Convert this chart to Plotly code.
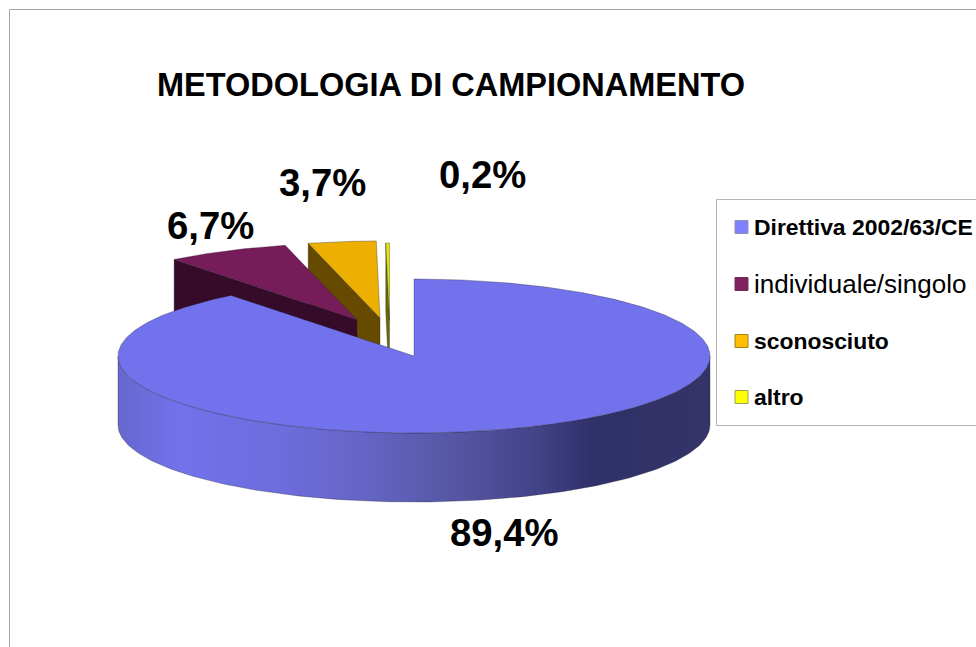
import math
import plotly.graph_objects as go

# ---- data ----
categories = ["Direttiva 2002/63/CE", "individuale/singolo", "sconosciuto", "altro"]
values = [89.4, 6.7, 3.7, 0.2]
value_labels = ["89,4%", "6,7%", "3,7%", "0,2%"]
title_text = "METODOLOGIA DI CAMPIONAMENTO"

# ---- styles / layout ----
top_colors = ["#7272EC", "#761C58", "#EDB000", "#E6E600"]
side_colors = ["#5A5ABA", "#360B2A", "#654A00", "#6A6A00"]
key_colors = ["#8080FF", "#802060", "#FFBF00", "#FFFF00"]
key_borders = ["#9090B0", "#6A3058", "#A08020", "#A0A060"]
text_fonts = [22.9, 26, 22.9, 22.9]
text_bold = [True, False, True, True]
side_gradient = [[0, "#6767CE"], [0.1, "#7272EC"], [0.25, "#6E6EE0"], [0.4, "#6666C8"],
                 [0.55, "#5858A8"], [0.7, "#44448A"], [0.8, "#30306A"], [1, "#343468"]]

CX, CY, RX, RY, DEPTH = 414, 356, 296, 77, 69
centres = [(414, 356), (357, 320), (380, 318), (389.5, 320)]
label_pos = [(504, 532), (210, 225), (322, 182), (482, 174)]
key_y = [227, 284, 341, 397]
KEY_X, TEXT_X = 741.5, 752
EDGE = "rgba(30,30,50,0.55)"


def rim(c, a0, a1, n=120):
    xs, ys = [], []
    for i in range(n + 1):
        a = math.radians(a0 + (a1 - a0) * i / n)
        xs.append(c[0] + RX * math.sin(a))
        ys.append(c[1] - RY * math.cos(a))
    return xs, ys


# sweep from the values
spans = []
acc = 0.0
for v in values:
    spans.append((acc * 3.6, (acc + v) * 3.6))
    acc += v

fig = go.Figure()

# exploded slices, back to front, then the main slice
for i in [3, 2, 1]:
    a0, a1 = spans[i]
    c = centres[i]
    xr, yr = rim(c, a0, a1, 40)
    # cut face on the viewer's side
    fig.add_trace(go.Scatter(
        x=[xr[0], c[0], c[0], xr[0], xr[0]],
        y=[yr[0], c[1], c[1] + DEPTH, yr[0] + DEPTH, yr[0]],
        mode="lines", fill="toself", fillcolor=side_colors[i],
        line=dict(color=EDGE, width=0.6), hoverinfo="skip", showlegend=False))
    fig.add_trace(go.Scatter(
        x=[c[0]] + xr + [c[0]], y=[c[1]] + yr + [c[1]],
        mode="lines", fill="toself", fillcolor=top_colors[i],
        line=dict(color=EDGE, width=0.6), name=categories[i], showlegend=False))

# main slice: front wall with a horizontal gradient, then its top
a0, a1 = spans[0]
c = centres[0]
xf, yf = rim(c, 90, 270, 180)
fig.add_trace(go.Scatter(
    x=xf + xf[::-1] + [xf[0]],
    y=yf + [y + DEPTH for y in yf[::-1]] + [yf[0]],
    mode="lines", fill="toself",
    fillgradient=dict(type="horizontal", colorscale=side_gradient),
    line=dict(color=EDGE, width=0.6), hoverinfo="skip", showlegend=False))
xr, yr = rim(c, a0, a1, 360)
fig.add_trace(go.Scatter(
    x=[c[0]] + xr + [c[0]], y=[c[1]] + yr + [c[1]],
    mode="lines", fill="toself", fillcolor=top_colors[0],
    line=dict(color=EDGE, width=0.6), name=categories[0], showlegend=False))

# legend keys
for i, cat in enumerate(categories):
    fig.add_trace(go.Scatter(
        x=[KEY_X], y=[key_y[i]], mode="markers",
        marker=dict(symbol="square", size=13, color=key_colors[i],
                    line=dict(color=key_borders[i], width=1)),
        name=cat, showlegend=False, hoverinfo="skip"))

ann = [dict(x=450.5, y=85, text="<b>%s</b>" % title_text, showarrow=False,
            font=dict(size=32.5, color="black"))]
for (x, y), t in zip(label_pos, value_labels):
    ann.append(dict(x=x, y=y, text="<b>%s</b>" % t, showarrow=False,
                    font=dict(size=38.3, color="black")))
for i, cat in enumerate(categories):
    ann.append(dict(x=TEXT_X, y=key_y[i], text=("<b>%s</b>" % cat) if text_bold[i] else cat,
                    xanchor="left", showarrow=False,
                    font=dict(size=text_fonts[i], color="black")))
for a in ann:
    a.update(xref="x", yref="y", xshift=0, yshift=0)

GRAY = "#A6A6A6"
shapes = [
    dict(type="line", xref="x", yref="y", x0=9.5, y0=9.5, x1=976, y1=9.5, line=dict(color=GRAY, width=1)),
    dict(type="line", xref="x", yref="y", x0=9.5, y0=9.5, x1=9.5, y1=647, line=dict(color=GRAY, width=1)),
    dict(type="rect", xref="x", yref="y", x0=716.5, y0=199.5, x1=980, y1=425.5,
         line=dict(color="#B4B4B4", width=1), layer="below"),
]

fig.update_layout(
    width=976, height=647, margin=dict(l=0, r=0, t=0, b=0),
    paper_bgcolor="white", plot_bgcolor="white",
    font=dict(family="Liberation Sans, Arial, sans-serif"),
    showlegend=False, annotations=ann, shapes=shapes,
    xaxis=dict(range=[0, 976], visible=False, fixedrange=True),
    yaxis=dict(range=[647, 0], visible=False, fixedrange=True),
)

fig.write_html("out.html", config={"displayModeBar": False},
               post_script="document.body.style.margin='0';document.documentElement.style.overflow='hidden';")
